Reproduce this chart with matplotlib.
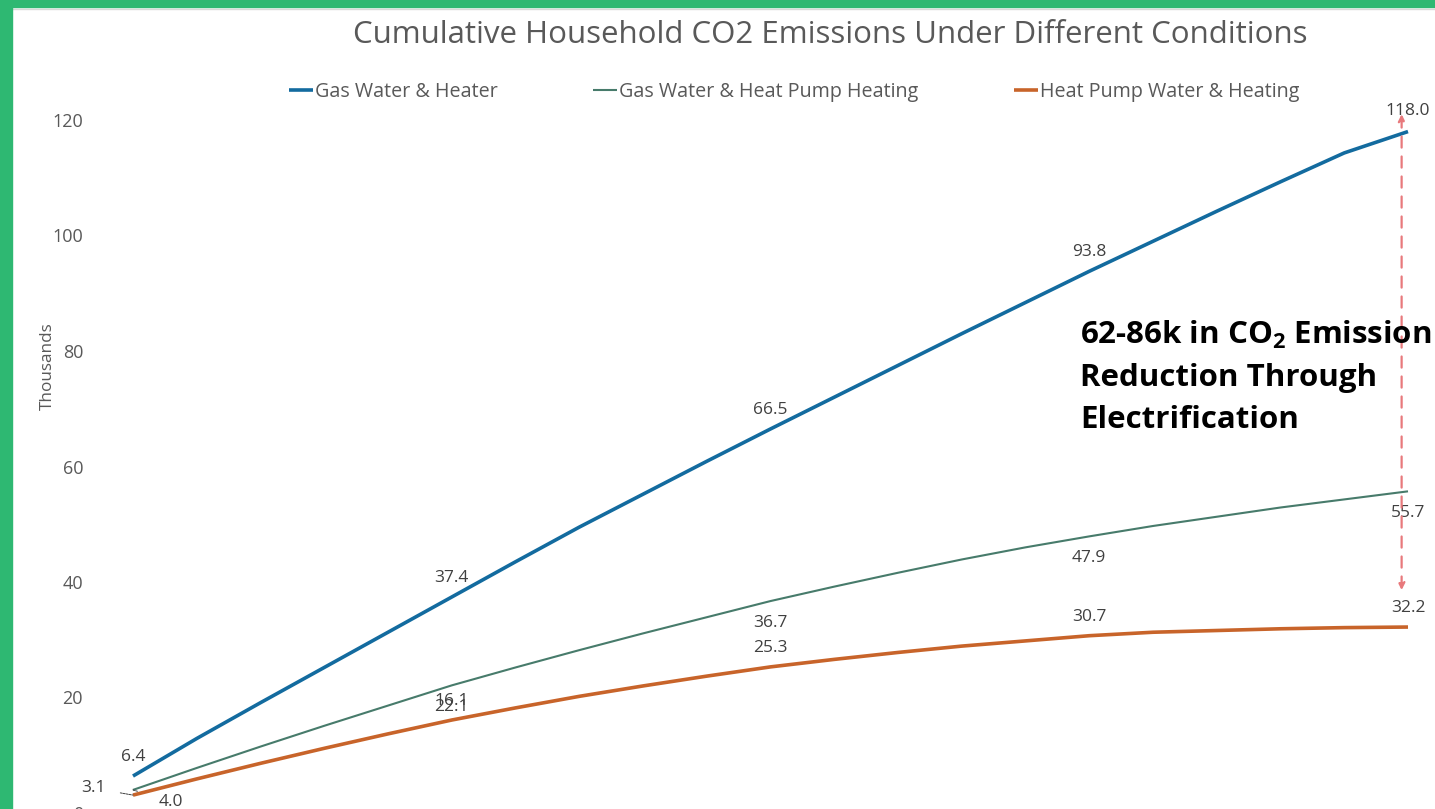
import matplotlib
matplotlib.use("Agg")
import matplotlib.pyplot as plt
from matplotlib.patches import Rectangle
from matplotlib.lines import Line2D

plt.rcParams['font.family'] = ['Open Sans', 'DejaVu Sans']
plt.rcParams['mathtext.fontset'] = 'custom'
plt.rcParams['mathtext.rm'] = 'Open Sans'
plt.rcParams['mathtext.bf'] = 'Open Sans:bold'

# ---- data (thousands of units CO2, cumulative, by year) ----
years = list(range(0, 21))
gas_water_heater = [6.4, 12.9, 19.1, 25.2, 31.3, 37.4, 43.5, 49.5, 55.2, 60.9, 66.5,
                    72.0, 77.5, 83.0, 88.4, 93.8, 99.0, 104.2, 109.3, 114.3, 118.0]
gas_water_hp_heating = [4.0, 7.8, 11.5, 15.1, 18.6, 22.1, 25.2, 28.2, 31.1, 33.9, 36.7,
                        39.2, 41.6, 43.9, 46.0, 47.9, 49.7, 51.3, 52.9, 54.3, 55.7]
hp_water_heating = [3.1, 5.9, 8.6, 11.2, 13.7, 16.1, 18.2, 20.2, 22.0, 23.7, 25.3,
                    26.6, 27.8, 28.9, 29.8, 30.7, 31.3, 31.6, 31.9, 32.1, 32.2]
series_names = ["Gas Water & Heater", "Gas Water & Heat Pump Heating", "Heat Pump Water & Heating"]
label_years = [0, 5, 10, 15, 20]
y_ticks = [0, 20, 40, 60, 80, 100, 120]

colors = ["#136B9F", "#477B6B", "#C8642A"]
widths = [2.6, 1.5, 2.6]

W, H = 1435, 809
fig = plt.figure(figsize=(W / 100, H / 100), dpi=100)
fig.patch.set_facecolor("white")

# axes placement (pixels)
x0, x1 = 133, 1408
y_zero, px_per_unit = 813, 5.775
ymax = 125
y_top = y_zero - ymax * px_per_unit
ax = fig.add_axes([x0 / W, (H - y_zero) / H, (x1 - x0) / W, (y_zero - y_top) / H])
ax.set_xlim(0, 20)
ax.set_ylim(0, ymax)
ax.patch.set_alpha(0)
for s in ax.spines.values():
    s.set_visible(False)
ax.set_xticks([])
ax.set_yticks(y_ticks)
ax.tick_params(axis='y', length=0, pad=36, labelsize=13, labelcolor="#595959")

all_series = [gas_water_heater, gas_water_hp_heating, hp_water_heating]
for vals, c, lw, name in zip(all_series, colors, widths, series_names):
    ax.plot(years, vals, color=c, lw=lw, label=name, solid_capstyle='butt', clip_on=False)

# data labels
lab_fs = 12.5
lab_kw = dict(textcoords='offset pixels', ha='center', va='center', fontsize=lab_fs, color="#404040")
offsets = [19, -22, 19]
for si, (vals, off) in enumerate(zip(all_series, offsets)):
    for yr in label_years:
        if yr == 0 and si > 0:
            continue
        ax.annotate(f"{vals[yr]:.1f}", (yr, vals[yr]), xytext=(0, off + (2 if yr == 20 and si == 0 else 0)), **lab_kw)

# start labels with leader lines
ax.annotate(f"{hp_water_heating[0]:.1f}", (0, hp_water_heating[0]), xytext=(-40, 7),
            textcoords='offset pixels', ha='center', va='center', fontsize=lab_fs, color="#404040",
            arrowprops=dict(arrowstyle='-', color="#404040", lw=0.7, ls=(0, (2, 1)),
                            shrinkA=9, shrinkB=0), annotation_clip=False)
ax.annotate(f"{gas_water_hp_heating[0]:.1f}", (0, gas_water_hp_heating[0]), xytext=(38, -12),
            textcoords='offset pixels', ha='center', va='center', fontsize=lab_fs, color="#404040",
            arrowprops=dict(arrowstyle='-', color="#404040", lw=0.7, ls=(0, (2, 1)),
                            shrinkA=14, shrinkB=0), annotation_clip=False)

# difference arrow
arrow_x = 19.9
ax.annotate("", xy=(arrow_x, 121.0), xytext=(arrow_x, 38.6),
            arrowprops=dict(arrowstyle='<|-|>', color="#E8797C", lw=1.6, ls=(0, (5, 4)),
                            mutation_scale=10, shrinkA=0, shrinkB=0), annotation_clip=False)

ann_fs = 22.5
fig.text(1080 / W, 1 - 335 / H, r"62-86k in CO$_\mathbf{2}$ Emission", fontsize=ann_fs, fontweight='bold',
         color="black", ha='left', va='center')
fig.text(1080 / W, 1 - 378 / H, "Reduction Through", fontsize=ann_fs, fontweight='bold',
         color="black", ha='left', va='center')
fig.text(1080 / W, 1 - 420 / H, "Electrification", fontsize=ann_fs, fontweight='bold',
         color="black", ha='left', va='center')

# title, axis title
fig.text(830 / W, 1 - 35 / H, "Cumulative Household CO2 Emissions Under Different Conditions",
         fontsize=22.5, color="#595959", ha='center', va='center')
fig.text(48 / W, 1 - 366 / H, "Thousands", rotation=90, fontsize=12.3, color="#595959",
         ha='center', va='center')

# legend
leg = fig.legend(loc='center', bbox_to_anchor=(794 / W, 1 - 92 / H), ncol=3, frameon=False,
                 fontsize=14.2, handlelength=1.22, handletextpad=0.1, columnspacing=4.85,
                 labelcolor="#595959")

# green frame (spreadsheet crop)
fig.patches.append(Rectangle((0, 0), 12 / W, 1, transform=fig.transFigure, color="#2EB872", zorder=10))
fig.patches.append(Rectangle((0, 1 - 7 / H), 1, 7 / H, transform=fig.transFigure, color="#2EB872", zorder=10))
fig.lines.append(Line2D([12 / W, 1], [1 - 8.5 / H] * 2, transform=fig.transFigure, color="#D9D9D9", lw=1))

fig.savefig("out.png", dpi=100)
